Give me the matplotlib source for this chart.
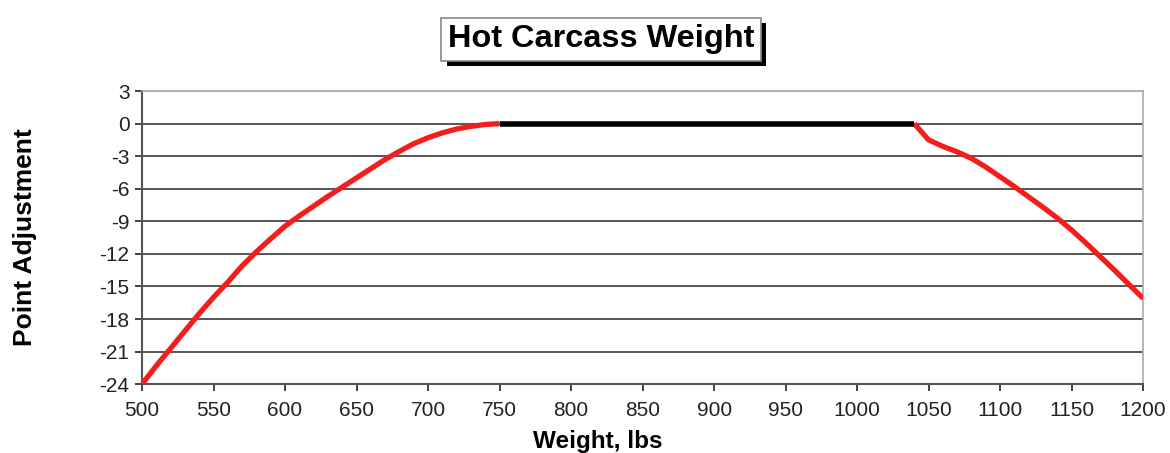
"""Hot carcass weight point adjustment chart."""

import matplotlib
matplotlib.use("Agg")
import matplotlib.pyplot as plt
import matplotlib.patheffects as pe

plt.rcParams["font.family"] = ["Liberation Sans", "DejaVu Sans"]
plt.rcParams["axes.unicode_minus"] = False

# ── Data ─────────────────────────────────────────────────────────────────────
light_weight = [500, 510, 520, 530, 540, 550, 560, 570, 580, 590, 600, 610,
                620, 630, 640, 650, 660, 670, 680, 690, 700, 710, 720, 730,
                740, 750]
light_adj = [-24.0, -22.3, -20.7, -19.1, -17.5, -16.0, -14.6, -13.1, -11.8,
             -10.6, -9.45, -8.5, -7.6, -6.7, -5.85, -5.0, -4.15, -3.3, -2.55,
             -1.85, -1.3, -0.85, -0.5, -0.25, -0.08, 0.0]

ideal_weight = [750, 1040]
ideal_adj = [0, 0]

heavy_weight = [1040, 1050, 1060, 1070, 1080, 1090, 1100, 1110, 1120, 1130,
                1140, 1150, 1160, 1170, 1180, 1190, 1200]
heavy_adj = [0.0, -1.5, -2.1, -2.6, -3.2, -4.0, -4.9, -5.8, -6.75, -7.7,
             -8.7, -9.8, -11.0, -12.25, -13.5, -14.8, -16.1]

x_ticks = list(range(500, 1201, 50))
y_ticks = list(range(-24, 4, 3))

# ── Figure ───────────────────────────────────────────────────────────────────
fig = plt.figure(figsize=(11.7, 4.53), dpi=100)
ax = fig.add_axes([0.1214, 0.152, 0.8556, 0.647])

red = "#f41d1d"
ax.plot(light_weight, light_adj, color=red, lw=3.8, solid_capstyle="butt",
        solid_joinstyle="round", zorder=3)
ax.plot(heavy_weight, heavy_adj, color=red, lw=3.8, solid_capstyle="butt",
        solid_joinstyle="round", zorder=3)
ax.plot(ideal_weight, ideal_adj, color="black", lw=4, solid_capstyle="butt",
        zorder=4)

ax.set_xlim(500, 1200)
ax.set_ylim(-24, 3)
ax.set_xticks(x_ticks)
ax.set_yticks(y_ticks)
ax.tick_params(axis="both", labelsize=15, colors="#222222", length=5,
               width=1.2, direction="out")
ax.tick_params(axis="x", pad=7)
ax.tick_params(axis="y", pad=4)

for y in y_ticks[1:-1]:
    ax.axhline(y, color="#555555", lw=1.4, zorder=1)
ax.axhline(3, color="#aaaaaa", lw=1.4, zorder=1)

for side in ("top", "right"):
    ax.spines[side].set_color("#aaaaaa")
    ax.spines[side].set_linewidth(1.2)
for side in ("left", "bottom"):
    ax.spines[side].set_color("#555555")
    ax.spines[side].set_linewidth(1.5)

ax.set_ylabel("Point Adjustment", fontsize=19, fontweight="bold")
ax.set_xlabel("Weight, lbs", fontsize=17.5, fontweight="bold")
ax.xaxis.set_label_coords((598 - 142) / 1001, -0.195)
ax.xaxis.label.set_va("center")
ax.yaxis.set_label_coords((25 - 142) / 1001, 0.5)
ax.yaxis.label.set_va("center")

# Title box with a drop shadow
title = fig.text(601 / 1170, 1 - 39 / 453, "Hot Carcass Weight",
                 ha="center", va="center", fontsize=23.4, fontweight="bold",
                 color="black",
                 bbox=dict(boxstyle="square,pad=0.2", fc="white",
                           ec="#888888", lw=1.2))
title.get_bbox_patch().set_path_effects([
    pe.SimplePatchShadow(offset=(4, -4), shadow_rgbFace="black", alpha=1.0),
    pe.Normal(),
])

plt.savefig("out.png", dpi=100)
print("Saved to out.png")
